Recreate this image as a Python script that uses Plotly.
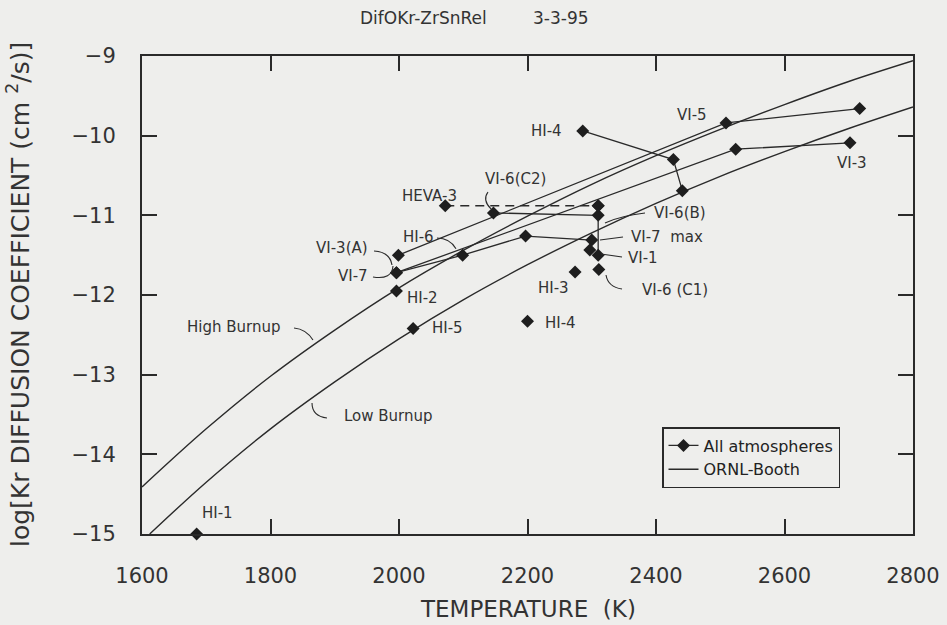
import plotly.graph_objects as go

# ---------------- data ----------------
# ORNL-Booth curves
booth_high_T = [1600, 1700, 1800, 1900, 2000, 2100, 2200, 2300, 2400, 2500, 2600, 2700, 2800]
booth_high_D = [-14.41, -13.68, -13.02, -12.44, -11.91, -11.44, -11.01, -10.61, -10.25, -9.92, -9.61, -9.32, -9.06]
booth_low_T = [1612, 1700, 1800, 1900, 2000, 2100, 2200, 2300, 2400, 2500, 2600, 2700, 2800]
booth_low_D = [-15.0, -14.35, -13.68, -13.09, -12.55, -12.06, -11.62, -11.22, -10.85, -10.51, -10.20, -9.91, -9.64]

# Connected experiment groups
hi4_T = [2286, 2427, 2441]
hi4_D = [-9.94, -10.30, -10.69]
vi3a_T = [1999, 2509, 2717]
vi3a_D = [-11.50, -9.84, -9.66]
vi7_T = [1996, 2524, 2702]
vi7_D = [-11.72, -10.17, -10.09]
vi7max_T = [1996, 2099, 2197, 2300]
vi7max_D = [-11.72, -11.50, -11.26, -11.31]
vi6_T = [2147, 2310]
vi6_D = [-10.97, -11.00]
vi6v_T = [2310, 2310]
vi6v_D = [-10.88, -11.50]
heva3_T = [2072, 2310]
heva3_D = [-10.88, -10.88]

# Single points
single_T = [1685, 2022, 2200, 2274, 2311, 2297, 1996]
single_D = [-15.0, -12.42, -12.33, -11.71, -11.68, -11.435, -11.95]

# ---------------- build figure ----------------
INK = "#2a2a2a"
BG = "#eeeeec"
TXT = "#333333"

groups = [(hi4_T, hi4_D), (vi3a_T, vi3a_D), (vi7_T, vi7_D), (vi7max_T, vi7max_D),
          (vi6_T, vi6_D), (vi6v_T, vi6v_D)]
xs, ys = [], []
for gx, gy in groups:
    xs += list(gx) + [None]
    ys += list(gy) + [None]
for sx, sy in zip(single_T, single_D):
    xs += [sx, None]
    ys += [sy, None]

fig = go.Figure()
fig.add_trace(go.Scatter(
    x=booth_high_T, y=booth_high_D, mode="lines", line=dict(color=INK, width=1.4, shape="spline"),
    name="ORNL-Booth", showlegend=False))
fig.add_trace(go.Scatter(
    x=booth_low_T, y=booth_low_D, mode="lines", line=dict(color=INK, width=1.4, shape="spline"),
    name="ORNL-Booth", showlegend=False))
fig.add_trace(go.Scatter(
    x=heva3_T, y=heva3_D, mode="lines+markers", line=dict(color=INK, width=1.3, dash="9px,6px"),
    marker=dict(symbol="diamond", size=10, color="#1e1e1e"), showlegend=False, cliponaxis=False))
fig.add_trace(go.Scatter(
    x=xs, y=ys, mode="lines+markers", line=dict(color=INK, width=1.3),
    marker=dict(symbol="diamond", size=10, color="#1e1e1e"), name="All atmospheres",
    connectgaps=False, cliponaxis=False))
# legend entry for ORNL-Booth
fig.add_trace(go.Scatter(x=[1600], y=[-20], mode="lines", line=dict(color=INK, width=1.6),
                         name="ORNL-Booth"))

# ---------------- labels ----------------
labels = [
    ("HI-1", 1717, -14.74), ("High Burnup", 1742, -12.40), ("Low Burnup", 1983, -13.52),
    ("HI-5", 2075, -12.41), ("HI-2", 2037, -12.04), ("VI-7", 1928, -11.76),
    ("VI-3(A)", 1911, -11.41), ("HI-6", 2030, -11.27), ("HEVA-3", 2047, -10.76),
    ("VI-6(C2)", 2181, -10.54), ("HI-4", 2230, -9.94), ("VI-5", 2456, -9.74),
    ("VI-6(B)", 2437, -10.97), ("VI-7\u00a0\u00a0max", 2417, -11.27), ("VI-1", 2380, -11.54),
    ("HI-3", 2240, -11.91), ("VI-6\u00a0(C1)", 2430, -11.94), ("HI-4", 2251, -12.35),
    ("VI-3", 2705, -10.34),
]
ann = []
for t, x, y in labels:
    ann.append(dict(text=t, x=x, y=y, xref="x", yref="y", showarrow=False,
                    font=dict(family="DejaVu Sans", size=15, color=TXT),
                    xanchor="center", yanchor="middle"))
ann.append(dict(text="DifOKr-ZrSnRel", x=(423 - 142) / 771, y=1 + (56 - 18) / 478, xref="paper", yref="paper",
                showarrow=False, font=dict(family="DejaVu Sans", size=17, color=TXT),
                xanchor="center", yanchor="middle"))
ann.append(dict(text="3-3-95", x=(561 - 142) / 771, y=1 + (56 - 18) / 478, xref="paper", yref="paper",
                showarrow=False, font=dict(family="DejaVu Sans", size=17, color=TXT),
                xanchor="center", yanchor="middle"))
ann.append(dict(text="log[Kr DIFFUSION COEFFICIENT (cm <sup>2</sup>/s)]", x=(18 - 142) / 771, y=0.5,
                xref="paper", yref="paper", textangle=-90, showarrow=False,
                font=dict(family="DejaVu Sans", size=25, color=TXT),
                xanchor="center", yanchor="middle"))
ann.append(dict(text="TEMPERATURE\u00a0 (K)", x=0.5, y=-(609 - 534) / 478, xref="paper", yref="paper",
                showarrow=False, font=dict(family="DejaVu Sans", size=23, color=TXT),
                xanchor="center", yanchor="middle"))

# leader curves
leaders = [
    "M1836.6,-12.414 Q1855.3,-12.427 1866.1,-12.565",
    "M1864.6,-13.355 Q1864.6,-13.519 1887.9,-13.544",
    "M1959.5,-11.774 Q1989.1,-11.812 1990.7,-11.636",
    "M1961.1,-11.448 Q1986,-11.46 1989.1,-11.623",
    "M2059.1,-11.284 Q2079.4,-11.284 2088.7,-11.42",
    "M2138.5,-10.707 Q2129.2,-10.807 2143.2,-10.92",
    "M2382.9,-10.971 Q2344,-11.008 2320.6,-11.096",
    "M2348.6,-11.272 L2312.8,-11.31",
    "M2347.1,-11.523 L2314.4,-11.485",
    "M2322.2,-11.749 Q2325.3,-11.90 2347.1,-11.925",
]
shapes = [dict(type="path", path=p, xref="x", yref="y", line=dict(color=INK, width=1.1)) for p in leaders]

axis_common = dict(showgrid=False, zeroline=False, showline=True, linecolor=INK, linewidth=2,
                   mirror="ticks", ticks="inside", ticklen=15, tickwidth=1.6, tickcolor=INK,
                   tickfont=dict(family="DejaVu Sans", size=21, color=TXT))

fig.update_layout(
    width=947, height=625,
    margin=dict(l=142, r=34, t=56, b=91, autoexpand=False),
    paper_bgcolor=BG, plot_bgcolor=BG,
    xaxis=dict(range=[1600, 2800], tickvals=[1600, 1800, 2000, 2200, 2400, 2600, 2800],
               ticklabelstandoff=22, **axis_common),
    yaxis=dict(range=[-15, -9], tickvals=[-15, -14, -13, -12, -11, -10, -9],
               ticklabelstandoff=20, **axis_common),
    legend=dict(x=(662 - 142) / 771, y=(534 - 427) / 478, xanchor="left", yanchor="top",
                bgcolor=BG, bordercolor=INK, borderwidth=1.5,
                font=dict(family="DejaVu Sans", size=16, color="#222222"),
                itemwidth=30, tracegroupgap=2),
    annotations=ann, shapes=shapes,
    showlegend=True,
)

fig.write_html("out.html", config={"displayModeBar": False},
               post_script="document.body.style.margin='0';document.body.style.background='#eeeeec';")
